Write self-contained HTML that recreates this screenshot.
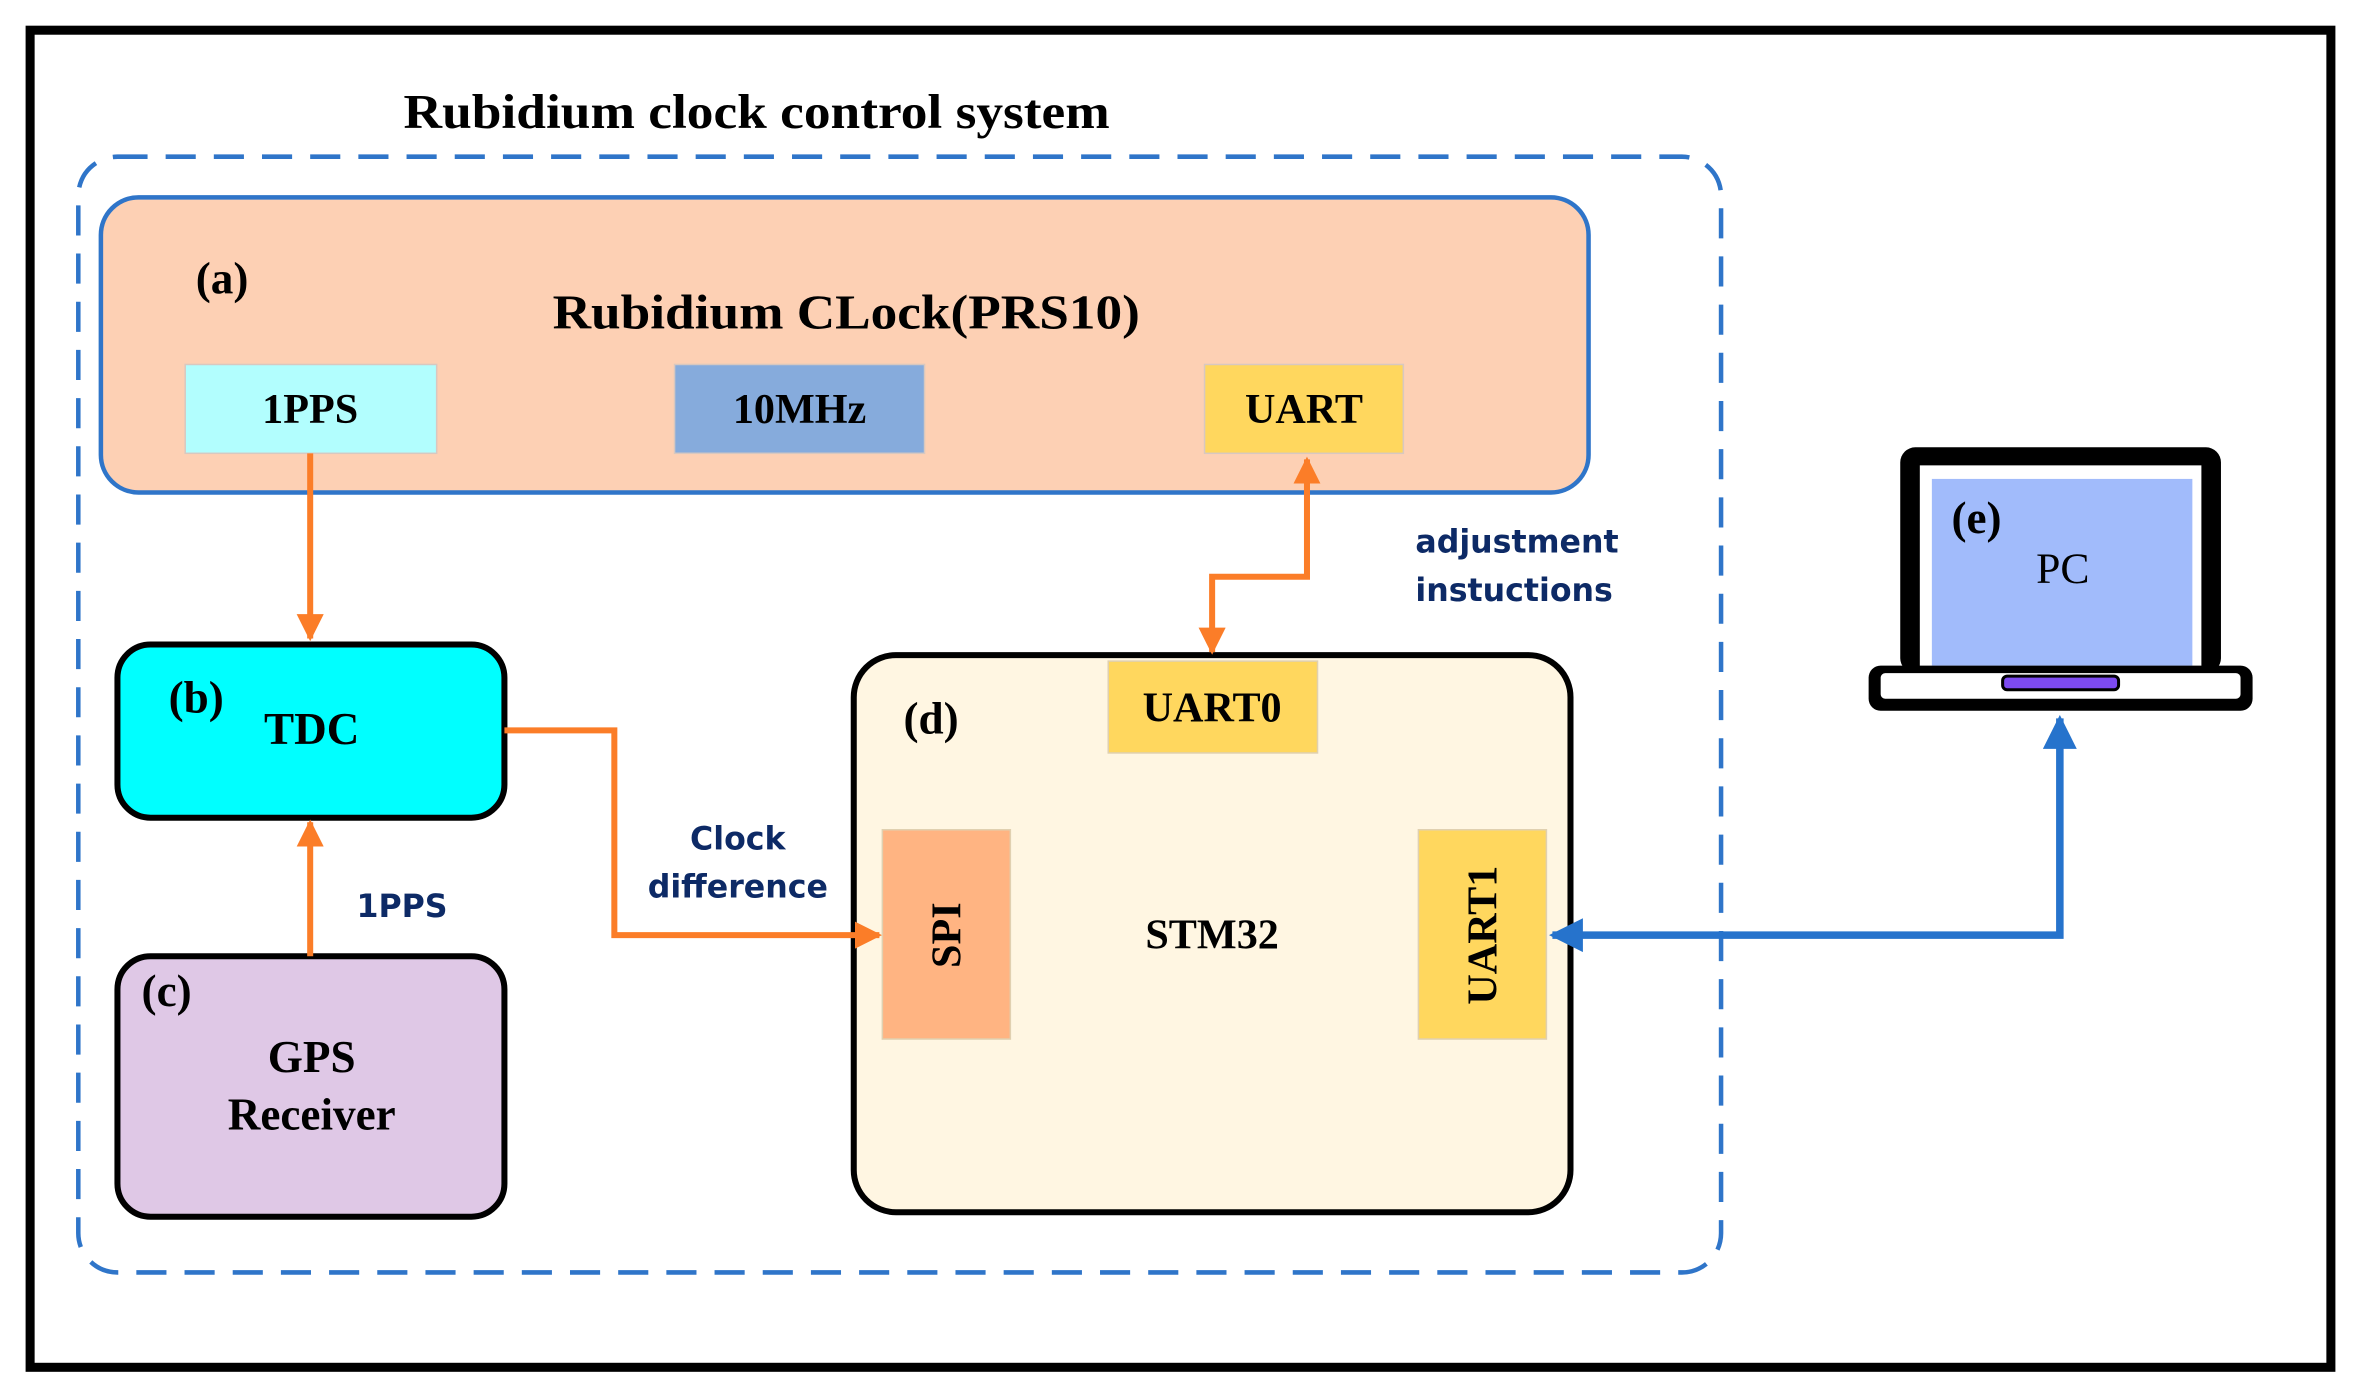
<!DOCTYPE html>
<html><head><meta charset="utf-8"><style>html,body{margin:0;padding:0;background:#fff}svg{display:block}</style></head>
<body>
<svg width="2361" height="1396" viewBox="0 0 1568 927" xmlns="http://www.w3.org/2000/svg">
<defs>
<marker id="ao" viewBox="0 0 10 10" refX="9" refY="5" markerWidth="4.5" markerHeight="4.5" orient="auto-start-reverse"><path d="M0,0 L10,5 L0,10 z" fill="#fb7d28"/></marker>
<marker id="ab" viewBox="0 0 10 10" refX="9" refY="5" markerWidth="4.5" markerHeight="4.5" orient="auto-start-reverse"><path d="M0,0 L10,5 L0,10 z" fill="#2673cc"/></marker>
</defs>
<rect x="0" y="0" width="1568" height="927" fill="#fff"/>
<rect x="20" y="20" width="1528" height="888" fill="none" stroke="#000" stroke-width="6"/>
<g font-family="Liberation Serif, serif" font-weight="bold" fill="#000">
<text x="268" y="85" font-size="32" textLength="469" lengthAdjust="spacingAndGlyphs">Rubidium clock control system</text>
</g>
<rect x="52" y="104" width="1091" height="741" rx="26" fill="none" stroke="#2f75c9" stroke-width="3" stroke-dasharray="20 12"/>
<rect x="67" y="131" width="988" height="196" rx="25" fill="#fdd0b4" stroke="#2f75c9" stroke-width="3"/>
<rect x="123" y="242" width="167" height="59" fill="#b2fefe" stroke="#d8c8c0" stroke-width="1"/>
<rect x="448" y="242" width="166" height="59" fill="#86abdc" stroke="#d8c8c0" stroke-width="1"/>
<rect x="800" y="242" width="132" height="59" fill="#ffd75e" stroke="#d8c8c0" stroke-width="1"/>
<rect x="78" y="428" width="257" height="115" rx="22" fill="#00ffff" stroke="#000" stroke-width="4"/>
<rect x="78" y="635" width="257" height="173" rx="22" fill="#dfc8e6" stroke="#000" stroke-width="4"/>
<rect x="567" y="435" width="476" height="370" rx="28" fill="#fff6e2" stroke="#000" stroke-width="4"/>
<rect x="736" y="439" width="139" height="61" fill="#ffd75e" stroke="#e0d0b0" stroke-width="1"/>
<rect x="586" y="551" width="85" height="139" fill="#ffb482" stroke="#e0d0b0" stroke-width="1"/>
<rect x="942" y="551" width="85" height="139" fill="#ffd75e" stroke="#e0d0b0" stroke-width="1"/>
<g fill="none" stroke="#fb7d28" stroke-width="4">
<path d="M206,301 L206,424" marker-end="url(#ao)"/>
<path d="M206,635 L206,546" marker-end="url(#ao)"/>
<path d="M335,485 L408,485 L408,621 L584,621" marker-end="url(#ao)"/>
<path d="M868,305 L868,383 L805,383 L805,433" marker-start="url(#ao)" marker-end="url(#ao)"/>
</g>
<path d="M1031,621 L1368,621 L1368,477" fill="none" stroke="#2673cc" stroke-width="5" marker-start="url(#ab)" marker-end="url(#ab)"/>
<rect x="1262" y="297" width="213" height="150" rx="10" fill="#000"/>
<rect x="1275" y="309" width="187" height="138" fill="#fff"/>
<rect x="1283" y="318" width="173" height="124" fill="#a1bbfb"/>
<rect x="1241" y="442" width="255" height="30" rx="8" fill="#000"/>
<rect x="1249" y="447" width="239" height="17" rx="3" fill="#fff"/>
<rect x="1330" y="449" width="77" height="9" rx="3" fill="#7d4af0" stroke="#000" stroke-width="2"/>
<g font-family="Liberation Serif, serif" font-weight="bold" fill="#000">
<text x="130" y="195" font-size="30">(a)</text>
<text x="367" y="218" font-size="32" textLength="390" lengthAdjust="spacingAndGlyphs">Rubidium CLock(PRS10)</text>
<text x="206" y="281" font-size="28" text-anchor="middle">1PPS</text>
<text x="531" y="281" font-size="28" text-anchor="middle">10MHz</text>
<text x="866" y="281" font-size="28" text-anchor="middle">UART</text>
<text x="112" y="473" font-size="30">(b)</text>
<text x="207" y="494" font-size="30" text-anchor="middle">TDC</text>
<text x="94" y="668" font-size="30">(c)</text>
<text x="207" y="712" font-size="30" text-anchor="middle">GPS</text>
<text x="207" y="750" font-size="30" text-anchor="middle">Receiver</text>
<text x="600" y="487" font-size="30">(d)</text>
<text x="805" y="479" font-size="28" text-anchor="middle">UART0</text>
<text x="805" y="630" font-size="28" text-anchor="middle">STM32</text>
<text transform="translate(638,621) rotate(-90)" font-size="28" text-anchor="middle">SPI</text>
<text transform="translate(994,621) rotate(-90)" font-size="28" text-anchor="middle">UART1</text>
<text x="1296" y="354" font-size="30">(e)</text>
<text x="1370" y="387" font-size="29" font-weight="normal" text-anchor="middle">PC</text>
</g>
<g font-family="DejaVu Sans, Liberation Sans, sans-serif" font-weight="bold" fill="#0d2a66" font-size="21">
<text x="267" y="609" text-anchor="middle">1PPS</text>
<text x="490" y="564" text-anchor="middle">Clock</text>
<text x="490" y="596" text-anchor="middle">difference</text>
<text x="940" y="367">adjustment</text>
<text x="940" y="399">instuctions</text>
</g>
</svg>
</body></html>
